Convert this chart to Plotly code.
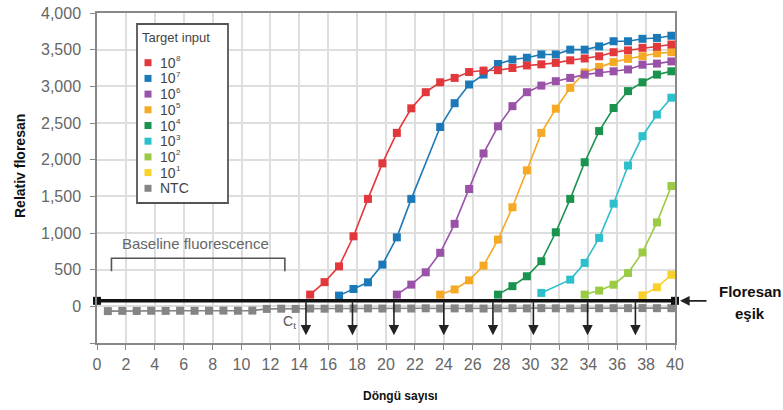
import plotly.graph_objects as go

# ---------------- data ----------------
cycles = [0.75, 1.75, 2.75, 3.75, 4.75, 5.75, 6.75, 7.75, 8.75, 9.75,
          10.75, 11.75, 12.75, 13.75, 14.75, 15.75, 16.75, 17.75, 18.75, 19.75,
          20.75, 21.75, 22.75, 23.75, 24.75, 25.75, 26.75, 27.75, 28.75, 29.75,
          30.75, 31.75, 32.75, 33.75, 34.75, 35.75, 36.75, 37.75, 38.75, 39.75]

legend_base = ["10", "10", "10", "10", "10", "10", "10", "10", "NTC"]
legend_exp = ["8", "7", "6", "5", "4", "3", "2", "1", ""]
series_colors = ["#e2383c", "#1b79b8", "#9a52a8", "#f6a924", "#19934e",
                 "#2cc0cc", "#9bcb45", "#f8d22a", "#858585"]

# values per cycle (None = below threshold / not drawn)
N = None
red = [N]*14 + [160, 330, 545, 955, 1465, 1950, 2365, 2700, 2920, 3055, 3115, 3195, 3215,
                3220, 3250, 3285, 3300, 3320, 3355, 3380, 3410, 3465, 3490, 3525, 3540, 3570]
blue = [N]*16 + [146, 237, 327, 569, 941, 1465, N, 2445, 2770, 3025, 3160, 3305, 3365,
                 3390, 3435, 3435, 3500, 3500, 3545, 3615, 3615, 3648, 3660, 3690]
purple = [N]*20 + [160, 296, 464, 730, 1125, 1600, 2085, 2455, 2730, 2920, 3010, 3070,
                   3115, 3160, 3185, 3205, 3230, 3295, 3310, 3340]
orange = [N]*23 + [160, 230, 355, 555, 910, 1350, 1855, 2365, 2695, 2980, 3190, 3265,
                   3330, 3375, 3410, 3450, 3465]
green = [N]*27 + [160, 275, 410, 615, 1010, 1465, 1965, 2390, 2705, 2935, 3055, 3160, 3205]
cyan = [N]*30 + [183, N, 364, 592, 933, 1400, 1920, 2320, 2615, 2845]
lightgreen = [N]*33 + [160, 215, 295, 455, 735, 1145, 1640]
yellow = [N]*37 + [150, 260, 430]
ntc = [-65, -62, -63, -60, -62, -60, -61, -60, -58, -60, -58, -35, -32, -35, -30, -32,
       -30, -30, -28, -30, -28, -30, -27, -30, -28, -27, -30, -28, -26, -28, -25, -27,
       -28, -25, -26, -25, -25, -24, -25, -25]

all_series = [red, blue, purple, orange, green, cyan, lightgreen, yellow, ntc]

threshold = 75
ct_values = [14.46, 17.68, 20.55, 24.0, 27.4, 30.2, 33.95, 37.26]

x_ticks = list(range(0, 41, 2))
y_ticks = [-500, 0, 500, 1000, 1500, 2000, 2500, 3000, 3500, 4000]
y_tick_labels = ["", "0", "500", "1,000", "1,500", "2,000", "2,500", "3,000", "3,500", "4,000"]

baseline_start, baseline_end = 1, 13
baseline_level, baseline_tick = 655, 480

# ---------------- figure ----------------
W, H = 783, 410
ML, MR, MT, MB = 97, 108, 13, 67
PW, PH = W - ML - MR, H - MT - MB
FONT = "Liberation Sans, Arial"

def px2paper_x(px):
    return (px - ML) / PW

def px2paper_y(py):
    return (H - MB - py) / PH

fig = go.Figure()

order = [8, 7, 6, 5, 4, 3, 2, 1, 0]
for i in order:
    fig.add_trace(go.Scatter(
        x=cycles, y=all_series[i], mode="lines+markers",
        line=dict(color=series_colors[i], width=1.6),
        marker=dict(symbol="square", size=8, color=series_colors[i]),
        connectgaps=True, showlegend=False,
        name=legend_base[i] + legend_exp[i],
    ))

# threshold line
fig.add_trace(go.Scatter(
    x=[0, 40], y=[threshold, threshold], mode="lines+markers",
    line=dict(color="#111111", width=3.5),
    marker=dict(symbol="square", size=8, color="#111111"),
    cliponaxis=False, showlegend=False,
))

anns = []
shapes = []

def ptext(px, py, text, size, color, bold=False, xanchor="center", angle=0):
    return dict(x=px2paper_x(px), y=px2paper_y(py), xref="paper", yref="paper",
                xanchor=xanchor, yanchor="middle", text=f"<b>{text}</b>" if bold else text,
                showarrow=False, borderpad=0, textangle=angle,
                font=dict(family=FONT, size=size, color=color))

for ct in ct_values:
    anns.append(dict(x=ct, y=-395, ax=ct, ay=threshold, xref="x", yref="y",
                     axref="x", ayref="y", showarrow=True, arrowhead=2,
                     arrowsize=1.3, arrowwidth=1.6, arrowcolor="#222222", text=""))

shapes.append(dict(type="path", xref="x", yref="y",
                   path=f"M {baseline_start},{baseline_tick} L {baseline_start},{baseline_level} "
                        f"L {baseline_end},{baseline_level} L {baseline_end},{baseline_tick}",
                   line=dict(color="#555555", width=1.6)))
anns.append(dict(x=(baseline_start + baseline_end) / 2 - 0.2, y=860, xref="x", yref="y",
                 xanchor="center", yanchor="middle",
                 text="Baseline fluorescence", showarrow=False,
                 font=dict(family=FONT, size=15, color="#666666")))
anns.append(dict(x=13.3, y=-215, xref="x", yref="y", xanchor="center", yanchor="middle",
                 text="C<sub>t</sub>", showarrow=False,
                 font=dict(family=FONT, size=14, color="#555555")))

anns.append(dict(x=px2paper_x(680), y=threshold, xref="paper", yref="y",
                 ax=28, ay=0, showarrow=True, arrowhead=2, arrowsize=1.2,
                 arrowwidth=1.6, arrowcolor="#222222", text=""))
anns.append(ptext(750, 291, "Floresan", 15, "#111111", bold=True))
anns.append(ptext(750, 313, "eşik", 15, "#111111", bold=True))

anns.append(ptext(20, 166, "Relativ floresan", 14, "#111111", bold=True, angle=-90))
anns.append(ptext(400, 396, "Döngü sayısı", 12, "#111111", bold=True))

# manual legend
shapes.append(dict(type="rect", xref="paper", yref="paper",
                   x0=px2paper_x(137), x1=px2paper_x(228),
                   y0=px2paper_y(203), y1=px2paper_y(24),
                   line=dict(color="#555555", width=1.8), fillcolor="white", layer="above"))
anns.append(ptext(141, 37, "Target input", 13, "#444444", xanchor="left"))
for i, col in enumerate(series_colors):
    cy = 62.7 + i * 15.7
    shapes.append(dict(type="rect", xref="paper", yref="paper",
                       x0=px2paper_x(144.5), x1=px2paper_x(151.5),
                       y0=px2paper_y(cy + 3.5), y1=px2paper_y(cy - 3.5),
                       line=dict(width=0), fillcolor=col, layer="above"))
    anns.append(ptext(159, cy, legend_base[i], 14, "#444444", xanchor="left"))
    if legend_exp[i]:
        anns.append(ptext(174.5, cy - 4, legend_exp[i], 8, "#444444", xanchor="left"))

fig.update_layout(
    width=W, height=H,
    margin=dict(l=ML, r=MR, t=MT, b=MB, autoexpand=False),
    paper_bgcolor="white", plot_bgcolor="white",
    showlegend=False,
    annotations=anns, shapes=shapes,
    xaxis=dict(range=[0, 40], tickvals=x_ticks, ticks="outside", ticklen=5,
               tickcolor="#888888", showline=True, linecolor="#888888", linewidth=1.5,
               mirror=True, showgrid=True, gridcolor="#dedede", gridwidth=1.5,
               zeroline=False, ticklabelstandoff=1, automargin=False,
               tickfont=dict(family=FONT, size=16, color="#666666")),
    yaxis=dict(range=[-500, 4000], tickvals=y_ticks, ticktext=y_tick_labels,
               ticks="outside", ticklen=5, tickcolor="#888888", showline=True,
               linecolor="#888888", linewidth=1.5, mirror=True, showgrid=True,
               gridcolor="#dedede", gridwidth=1.5, zeroline=False, ticklabelstandoff=6,
               automargin=False,
               tickfont=dict(family=FONT, size=16, color="#666666")),
)

fig.write_html("out.html", config={"displayModeBar": False},
               post_script="document.body.style.margin='0';document.body.style.padding='0';")
